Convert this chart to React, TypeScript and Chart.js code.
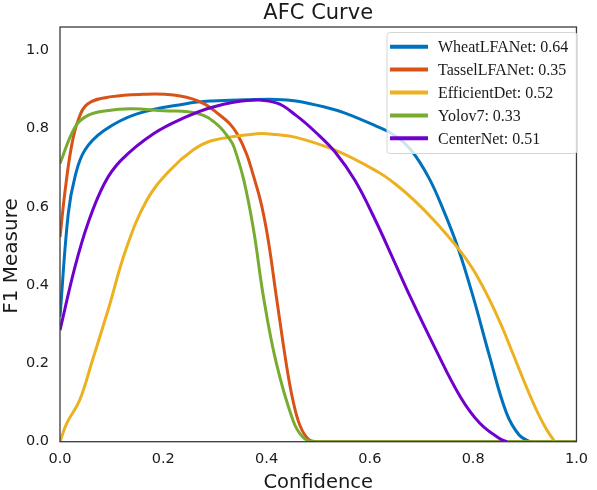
import React, { useEffect, useRef } from "react";
import { Chart, registerables } from "chart.js";

Chart.register(...registerables);

const SERIES_NAMES = ["WheatLFANet", "TasselLFANet", "EfficientDet", "Yolov7", "CenterNet"];
const SERIES_SCORES = ["0.64", "0.35", "0.52", "0.33", "0.51"];
const SERIES_COLORS = ["#0072BD", "#D95319", "#EDB120", "#77AC30", "#7000CE"];
const DRAW_ORDER = [4, 3, 2, 1, 0];

const CONF_WHEAT = [0, 0.016, 0.029, 0.048, 0.086, 0.149, 0.244, 0.295, 0.36, 0.419, 0.457, 0.514, 0.552, 0.61, 0.648, 0.68, 0.714, 0.743, 0.771, 0.8, 0.832, 0.864, 0.889, 0.91];
const F1_WHEAT = [0.32, 0.583, 0.677, 0.745, 0.796, 0.838, 0.864, 0.871, 0.874, 0.875, 0.871, 0.855, 0.84, 0.808, 0.783, 0.745, 0.675, 0.59, 0.494, 0.37, 0.217, 0.075, 0.017, 0];

const CONF_TASSEL = [0, 0.01, 0.022, 0.035, 0.054, 0.1, 0.162, 0.22, 0.267, 0.3, 0.343, 0.381, 0.4, 0.419, 0.438, 0.451, 0.465, 0.482, 0.5, 1.0];
const F1_TASSEL = [0.523, 0.643, 0.753, 0.821, 0.864, 0.882, 0.888, 0.886, 0.871, 0.845, 0.787, 0.651, 0.54, 0.37, 0.2, 0.106, 0.04, 0.005, 0, 0];

const CONF_EFFDET = [0, 0.013, 0.038, 0.063, 0.095, 0.127, 0.168, 0.213, 0.257, 0.295, 0.381, 0.419, 0.457, 0.533, 0.615, 0.648, 0.686, 0.724, 0.771, 0.8, 0.832, 0.857, 0.876, 0.914, 0.939, 0.958];
const F1_EFFDET = [0, 0.047, 0.106, 0.209, 0.345, 0.489, 0.617, 0.694, 0.745, 0.77, 0.787, 0.785, 0.778, 0.745, 0.69, 0.66, 0.617, 0.566, 0.494, 0.44, 0.362, 0.29, 0.228, 0.106, 0.038, 0];

const CONF_YOLO = [0, 0.029, 0.054, 0.09, 0.137, 0.2, 0.267, 0.305, 0.33, 0.337, 0.356, 0.375, 0.394, 0.419, 0.451, 0.47, 0.49, 1.0];
const F1_YOLO = [0.711, 0.804, 0.834, 0.846, 0.851, 0.846, 0.839, 0.81, 0.77, 0.753, 0.668, 0.54, 0.37, 0.2, 0.055, 0.012, 0, 0];

const CONF_CENTER = [0, 0.029, 0.054, 0.086, 0.118, 0.181, 0.244, 0.295, 0.362, 0.419, 0.457, 0.495, 0.533, 0.571, 0.61, 0.644, 0.679, 0.724, 0.775, 0.813, 0.851, 0.865];
const F1_CENTER = [0.285, 0.447, 0.558, 0.66, 0.719, 0.787, 0.83, 0.855, 0.872, 0.866, 0.834, 0.791, 0.74, 0.668, 0.568, 0.47, 0.368, 0.245, 0.115, 0.047, 0.008, 0];

const CONF_SERIES = [CONF_WHEAT, CONF_TASSEL, CONF_EFFDET, CONF_YOLO, CONF_CENTER];
const F1_SERIES = [F1_WHEAT, F1_TASSEL, F1_EFFDET, F1_YOLO, F1_CENTER];

const X_TICKS = [0, 0.2, 0.4, 0.6, 0.8, 1.0];
const Y_TICKS = [0, 0.2, 0.4, 0.6, 0.8, 1.0];

const TITLE = "AFC Curve";
const X_LABEL = "Confidence";
const Y_LABEL = "F1 Measure";

const SANS = "'DejaVu Sans', sans-serif";
const SERIF = "'Liberation Serif', 'Times New Roman', serif";

const decorPlugin = {
  id: "decor",
  afterDatasetsDraw(chart: any) {
    const { ctx, chartArea } = chart;
    const { left, right, top, bottom } = chartArea;
    ctx.save();
    ctx.strokeStyle = "#3a3a3a";
    ctx.lineWidth = 1.3;
    ctx.strokeRect(left, top, right - left, bottom - top);

    const bx = 387, by = 32.5, bw = 190, bh = 121, r = 3;
    ctx.beginPath();
    ctx.moveTo(bx + r, by);
    ctx.lineTo(bx + bw - r, by);
    ctx.quadraticCurveTo(bx + bw, by, bx + bw, by + r);
    ctx.lineTo(bx + bw, by + bh - r);
    ctx.quadraticCurveTo(bx + bw, by + bh, bx + bw - r, by + bh);
    ctx.lineTo(bx + r, by + bh);
    ctx.quadraticCurveTo(bx, by + bh, bx, by + bh - r);
    ctx.lineTo(bx, by + r);
    ctx.quadraticCurveTo(bx, by, bx + r, by);
    ctx.closePath();
    ctx.fillStyle = "rgba(255,255,255,0.8)";
    ctx.fill();
    ctx.strokeStyle = "#d6d6d6";
    ctx.lineWidth = 1;
    ctx.stroke();

    ctx.font = `16px ${SERIF}`;
    ctx.textBaseline = "middle";
    ctx.textAlign = "left";
    chart.data.datasets.forEach((ds: any, i: number) => {
      const y = 46.7 + i * 22.9;
      ctx.strokeStyle = ds.borderColor;
      ctx.lineWidth = 4;
      ctx.beginPath();
      ctx.moveTo(390, y);
      ctx.lineTo(428, y);
      ctx.stroke();
      ctx.fillStyle = "#1a1a1a";
      ctx.fillText(ds.label, 438, y + 1);
    });
    ctx.restore();
  },
  afterDraw(chart: any) {
    const { ctx, chartArea } = chart;
    const { left, right } = chartArea;
    ctx.save();
    ctx.fillStyle = "#1a1a1a";
    ctx.textAlign = "center";
    ctx.textBaseline = "alphabetic";
    ctx.font = `21px ${SANS}`;
    ctx.fillText(TITLE, (left + right) / 2, 18.5);
    ctx.font = `19.5px ${SANS}`;
    ctx.fillText(X_LABEL, (left + right) / 2, 488);
    ctx.translate(17, 256);
    ctx.rotate(-Math.PI / 2);
    ctx.font = `20px ${SANS}`;
    ctx.fillText(Y_LABEL, 0, 0);
    ctx.restore();
  },
};

export default function App() {
  const ref = useRef<HTMLCanvasElement>(null);
  useEffect(() => {
    document.body.style.margin = "0";
    const datasets = SERIES_NAMES.map((name, i) => ({
      label: `${name}: ${SERIES_SCORES[i]}`,
      data: CONF_SERIES[i].map((c, j) => ({ x: c, y: F1_SERIES[i][j] })),
      borderColor: SERIES_COLORS[i],
      backgroundColor: SERIES_COLORS[i],
      borderWidth: 3,
      pointRadius: 0,
      tension: 0.4,
      fill: false,
      order: DRAW_ORDER[i],
    }));
    const chart = new Chart(ref.current!, {
      type: "line",
      data: { datasets },
      options: {
        animation: false,
        responsive: false,
        layout: { padding: { left: 0, right: 12, top: 27, bottom: 0 } },
        plugins: { legend: { display: false }, tooltip: { enabled: false }, title: { display: false } },
        scales: {
          x: {
            type: "linear",
            min: 0,
            max: 1,
            grid: { display: false, drawTicks: false },
            border: { display: false },
            afterBuildTicks: (s: any) => { s.ticks = X_TICKS.map((v) => ({ value: v })); },
            afterFit: (s: any) => { s.height = 48.3; },
            ticks: {
              padding: 9,
              color: "#1a1a1a",
              font: { family: SANS, size: 14.5 },
              callback: (v: any) => Number(v).toFixed(1),
              maxRotation: 0,
            },
          },
          y: {
            type: "linear",
            min: 0,
            max: 1.06,
            grid: { display: false, drawTicks: false },
            border: { display: false },
            afterBuildTicks: (s: any) => { s.ticks = Y_TICKS.map((v) => ({ value: v })); },
            afterFit: (s: any) => { s.width = 60; },
            ticks: {
              padding: 11,
              color: "#1a1a1a",
              font: { family: SANS, size: 14.5 },
              callback: (v: any) => Number(v).toFixed(1),
            },
          },
        },
      },
      plugins: [decorPlugin],
    });
    return () => chart.destroy();
  }, []);
  return (
    <div style={{ position: "absolute", left: 0, top: 0, width: 597, height: 490, background: "#fff" }}>
      <canvas ref={ref} width={597} height={490} />
    </div>
  );
}
